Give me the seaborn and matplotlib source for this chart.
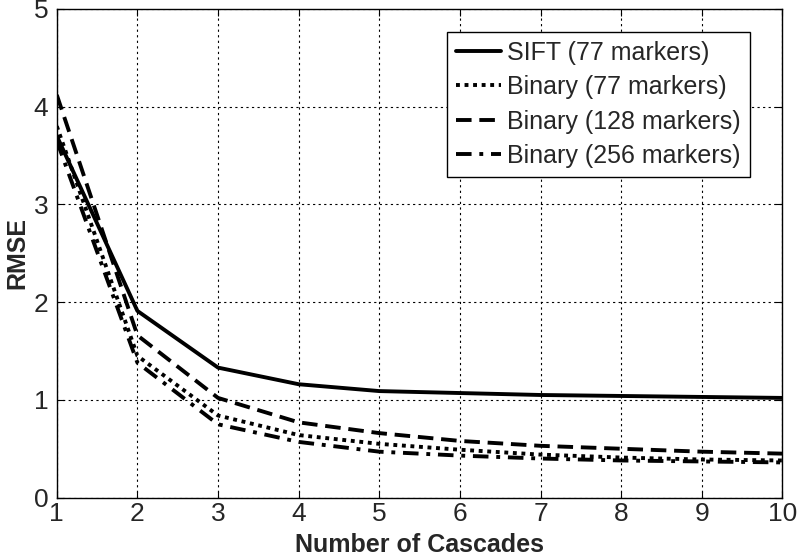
import numpy as np
import pandas as pd
import matplotlib
matplotlib.use("Agg")
import matplotlib.pyplot as plt
import seaborn as sns

cascades = [1, 2, 3, 4, 5, 6, 7, 8, 9, 10]
sift_77 = [3.70, 1.91, 1.33, 1.16, 1.09, 1.07, 1.05, 1.04, 1.03, 1.02]
binary_77 = [3.80, 1.45, 0.84, 0.64, 0.55, 0.49, 0.44, 0.41, 0.39, 0.38]
binary_128 = [4.12, 1.66, 1.02, 0.77, 0.66, 0.58, 0.53, 0.50, 0.47, 0.45]
binary_256 = [3.65, 1.38, 0.75, 0.57, 0.47, 0.43, 0.40, 0.38, 0.37, 0.36]

labels = ["SIFT (77 markers)", "Binary (77 markers)",
          "Binary (128 markers)", "Binary (256 markers)"]

df = pd.DataFrame({
    "Cascades": cascades * 4,
    "RMSE": sift_77 + binary_77 + binary_128 + binary_256,
    "Method": [l for l in labels for _ in cascades],
})

sns.set_style("white")
plt.rcParams["font.family"] = ["Liberation Sans", "DejaVu Sans"]

fig = plt.figure(figsize=(8, 5.56), dpi=100)
ax = fig.add_axes([0.071, 0.105, 0.907, 0.879])

dashes = {
    labels[0]: "",
    labels[1]: (1, 1.2),
    labels[2]: (4, 2),
    labels[3]: (4, 2, 1, 2),
}
sns.lineplot(data=df, x="Cascades", y="RMSE", hue="Method", style="Method",
             dashes=dashes, palette=["black"] * 4, linewidth=2.8, ax=ax,
             legend=False)

ax.set_xlim(1, 10)
ax.set_ylim(0, 5)
ax.set_xticks(cascades)
ax.set_yticks([0, 1, 2, 3, 4, 5])
ax.grid(True, color="black", linestyle=(0, (2, 3)), linewidth=0.8)
for s in ax.spines.values():
    s.set_color("black")
    s.set_linewidth(1.0)
ax.tick_params(axis="both", labelsize=19, direction="in", length=5,
               color="black", bottom=True, left=True, top=True, right=True)
ax.tick_params(axis="x", pad=3)
ax.tick_params(axis="y", pad=6)
ax.set_xlabel("Number of Cascades", fontsize=18, fontweight="bold", labelpad=5)
ax.set_ylabel("RMSE", fontsize=18, fontweight="bold", labelpad=3)

handles = ax.get_lines()[:4]
leg = ax.legend(handles, labels, loc="upper right", bbox_to_anchor=(0.955, 0.953),
                fontsize=18, frameon=True, fancybox=False, edgecolor="black",
                framealpha=1, handlelength=1.8, handletextpad=0.25,
                borderpad=0.35, labelspacing=0.42, borderaxespad=0)
leg.get_frame().set_linewidth(1.0)

fig.savefig("out.png", dpi=100)
